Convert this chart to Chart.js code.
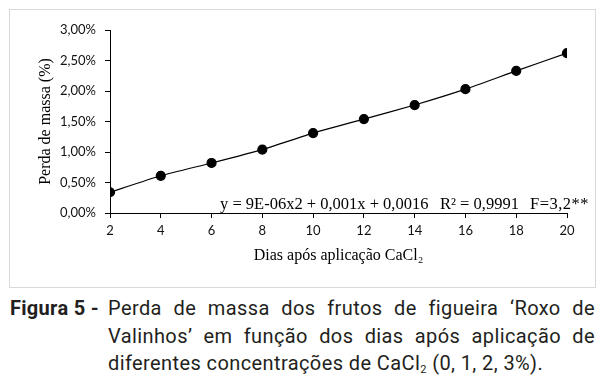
<!DOCTYPE html>
<html>
<head>
<meta charset="utf-8">
<script src="https://cdn.jsdelivr.net/npm/chart.js@4/dist/chart.umd.min.js"></script>
<style>
  html, body { margin: 0; padding: 0; background: #fff; }
  #wrap { position: relative; width: 604px; height: 388px; overflow: hidden; }
  #frame { position: absolute; left: 9px; top: 9px; width: 587px; height: 279px; box-sizing: border-box; border: 1px solid #d9d9d9; }
  #c { position: absolute; left: 10px; top: 10px; }
  #figlabel { position: absolute; left: 10px; top: 295px; font-family: Roboto, "Noto Sans", sans-serif; font-weight: bold; font-size: 20px; line-height: 27.5px; color: #231f20; white-space: nowrap; letter-spacing: 0.3px; }
  #captext { position: absolute; left: 108px; top: 295px; width: 487px; font-family: Roboto, "Noto Sans", sans-serif; font-size: 20px; line-height: 27.5px; color: #231f20; letter-spacing: 0.4px; }
  #captext .j { text-align: justify; text-align-last: justify; white-space: nowrap; }
  #captext .l { text-align: left; white-space: nowrap; }
  #captext sub { font-size: 11px; vertical-align: -3px; line-height: 0; }
</style>
</head>
<body>
<div id="wrap">
  <div id="frame"></div>
  <canvas id="c" width="584" height="276"></canvas>
  <div id="figlabel">Figura 5 -</div>
  <div id="captext">
    <div class="j">Perda de massa dos frutos de figueira ‘Roxo de</div>
    <div class="j">Valinhos’ em função dos dias após aplicação de</div>
    <div class="l">diferentes concentrações de CaCl<sub>2</sub> (0, 1, 2, 3%).</div>
  </div>
</div>
<script>
const days = [2, 4, 6, 8, 10, 12, 14, 16, 18, 20];
const massLoss = [0.34, 0.61, 0.82, 1.04, 1.31, 1.54, 1.77, 2.03, 2.33, 2.62];
const yTicks = [0, 0.5, 1, 1.5, 2, 2.5, 3];
const xTitle = 'Dias após aplicação CaCl₂';
const yTitle = 'Perda de massa (%)';
const eqParts = ['y = 9E-06x2 + 0,001x + 0,0016', 'R² = 0,9991', 'F=3,2**'];

const fmtPct = v => v.toFixed(2).replace('.', ',') + '%';

const eqPlugin = {
  id: 'eq',
  afterDraw(chart) {
    const ctx = chart.ctx;
    const a = chart.chartArea;
    ctx.save();
    ctx.font = '16.5px "Liberation Serif", "Times New Roman", serif';
    ctx.fillStyle = '#000';
    ctx.textBaseline = 'alphabetic';
    ctx.textAlign = 'left';
    const base = a.bottom - 4.5;
    ctx.fillText(eqParts[0], a.left + 110, base);
    ctx.fillText(eqParts[1], a.left + 330, base);
    if ('letterSpacing' in ctx) ctx.letterSpacing = '0.5px';
    ctx.fillText(eqParts[2], a.left + 420, base);
    ctx.restore();
  }
};

new Chart(document.getElementById('c'), {
  type: 'line',
  data: {
    datasets: [{
      data: days.map((d, i) => ({ x: d, y: massLoss[i] })),
      borderColor: '#000',
      borderWidth: 1.2,
      backgroundColor: '#000',
      pointRadius: 4.5,
      pointBackgroundColor: '#000',
      pointBorderColor: '#000',
      tension: 0.15,
      fill: false
    }]
  },
  options: {
    responsive: false,
    animation: false,
    devicePixelRatio: 1,
    layout: { padding: { left: 0, right: 27, top: 20, bottom: 0 } },
    plugins: { legend: { display: false }, tooltip: { enabled: false } },
    scales: {
      x: {
        type: 'linear',
        min: 2, max: 20,
        afterBuildTicks: s => { s.ticks = days.map(v => ({ value: v })); },
        afterFit: s => { s.height = 73; },
        ticks: { color: '#111', font: { family: 'Lato', size: 13 }, padding: 5, maxRotation: 0, autoSkip: false,
                 callback: v => String(v) },
        grid: { display: true, drawOnChartArea: false, drawTicks: true, tickLength: 5, color: '#000', lineWidth: 1 },
        border: { display: true, color: '#000', width: 1 },
        title: { display: true, text: xTitle, color: '#000', font: { family: '"Liberation Serif"', size: 16 }, padding: { top: 0, bottom: 21 } }
      },
      y: {
        min: 0, max: 3,
        afterBuildTicks: s => { s.ticks = yTicks.map(v => ({ value: v })); },
        afterFit: s => { s.width = 100; },
        ticks: { color: '#111', font: { family: 'Lato', size: 13 }, padding: 9, callback: v => fmtPct(v) },
        grid: { display: true, drawOnChartArea: false, drawTicks: true, tickLength: 5, color: '#000', lineWidth: 1 },
        border: { display: true, color: '#000', width: 1 },
        title: { display: true, text: yTitle, color: '#000', font: { family: '"Liberation Serif"', size: 16 }, padding: { top: 26, bottom: 0 } }
      }
    }
  },
  plugins: [eqPlugin]
});
</script>
</body>
</html>
